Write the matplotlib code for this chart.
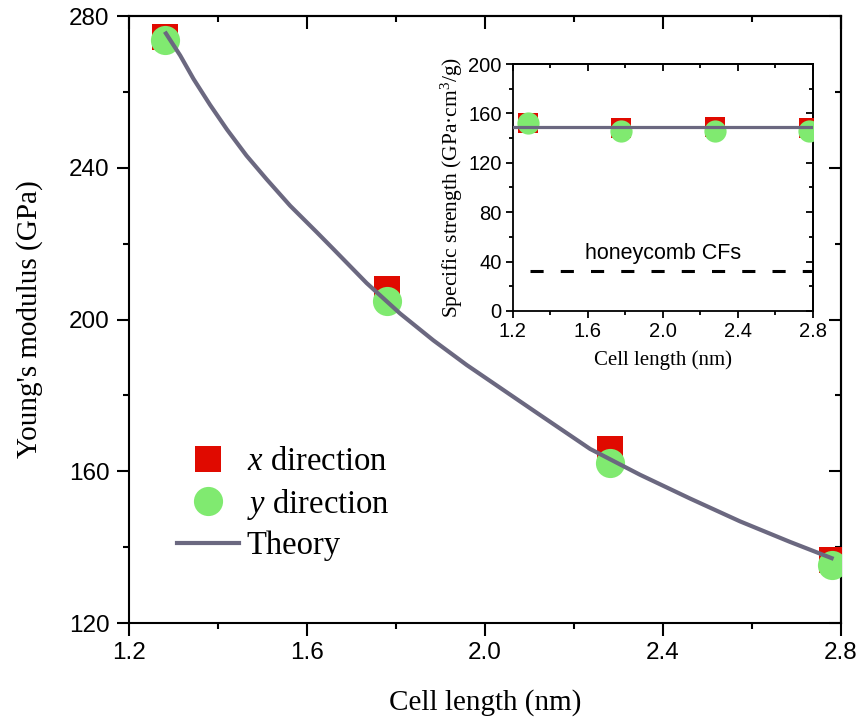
#!/usr/bin/env python3
import matplotlib
matplotlib.use("Agg")
import matplotlib.pyplot as plt
from matplotlib.ticker import MultipleLocator
from matplotlib.lines import Line2D

# cell length (nm)
cell_len = [1.28, 1.78, 2.28, 2.78]

# Young's modulus (GPa), main plot
E_x = [274.5, 208.0, 166.0, 136.6]
E_y = [273.8, 204.9, 162.3, 135.3]

# theory curve
theory_len = [1.283, 1.315, 1.345, 1.382, 1.420, 1.464, 1.509, 1.562, 1.622,
              1.659, 1.734, 1.809, 1.884, 1.959, 2.064, 2.124, 2.236, 2.348,
              2.461, 2.573, 2.685, 2.779]
theory_E = [275.4, 269.6, 263.4, 256.6, 250.1, 243.2, 237.0, 230.0, 223.0,
            218.6, 209.6, 201.6, 194.5, 188.0, 179.6, 174.8, 165.9, 159.1,
            152.8, 146.8, 141.4, 137.1]

# specific strength (GPa cm^3/g), inset
S_x = [152.4, 148.3, 149.3, 148.0]
S_y = [152.0, 145.9, 145.9, 145.9]
theory_S_len = [1.2, 2.8]
theory_S = [148.7, 148.7]
cf_len = [1.29, 2.8]
cf_S = [32, 32]

RED = '#e00a00'
GREEN = '#80ea70'
GREY = '#6b6880'

plt.rcParams['font.family'] = ['Liberation Sans', 'DejaVu Sans']
plt.rcParams['mathtext.fontset'] = 'custom'
plt.rcParams['mathtext.rm'] = 'Liberation Serif'
plt.rcParams['mathtext.it'] = 'Liberation Serif:italic'
SERIF = ['Liberation Serif', 'DejaVu Serif']


def style_axes(ax, major, minor, maj_len, min_len, width, labelsize, pad):
    ax.xaxis.set_major_locator(MultipleLocator(major[0]))
    ax.xaxis.set_minor_locator(MultipleLocator(minor[0]))
    ax.yaxis.set_major_locator(MultipleLocator(major[1]))
    ax.yaxis.set_minor_locator(MultipleLocator(minor[1]))
    ax.tick_params(which='major', direction='out', length=maj_len, width=width,
                   labelsize=labelsize, pad=pad)
    ax.tick_params(which='minor', direction='out', length=min_len, width=width)
    for s in ax.spines.values():
        s.set_linewidth(width)
    # top / right ticks point inward, without labels
    top = ax.secondary_xaxis('top')
    right = ax.secondary_yaxis('right')
    top.xaxis.set_major_locator(MultipleLocator(major[0]))
    top.xaxis.set_minor_locator(MultipleLocator(minor[0]))
    right.yaxis.set_major_locator(MultipleLocator(major[1]))
    right.yaxis.set_minor_locator(MultipleLocator(minor[1]))
    for sec in (top, right):
        sec.tick_params(which='major', direction='in', length=maj_len, width=width,
                        labeltop=False, labelright=False)
        sec.tick_params(which='minor', direction='in', length=min_len, width=width)
        for s in sec.spines.values():
            s.set_linewidth(width)


fig = plt.figure(figsize=(8.63, 7.21), dpi=100)

# Main plot
ax = fig.add_axes([0.1495, 0.1359, 0.825, 0.8419])
ax.plot(cell_len, E_x, 's', color=RED, markersize=19, markeredgewidth=0, zorder=3)
ax.plot(cell_len, E_y, 'o', color=GREEN, markersize=21, markeredgewidth=0, zorder=4)
ax.plot(theory_len, theory_E, '-', color=GREY, linewidth=3, zorder=5)
ax.set_xlim(1.2, 2.8)
ax.set_ylim(120, 280)
style_axes(ax, (0.4, 40), (0.2, 20), 9, 4.5, 1.5, 17.5, 5)
ax.set_xlabel('Cell length (nm)', family=SERIF, fontsize=21)
ax.set_ylabel("Young's modulus (GPa)", family=SERIF, fontsize=21)
ax.xaxis.set_label_coords(0.5, -0.108)
ax.yaxis.set_label_coords(-0.121, 0.5)

handles = [
    Line2D([], [], marker='s', linestyle='none', color=RED, markersize=19, markeredgewidth=0),
    Line2D([], [], marker='o', linestyle='none', color=GREEN, markersize=21, markeredgewidth=0),
    Line2D([], [], color=GREY, linewidth=3),
]
leg = ax.legend(handles, ['$x$ direction', '$y$ direction', 'Theory'],
                loc='center left', bbox_to_anchor=(0.067, 0.196), frameon=False,
                borderpad=0, borderaxespad=0, handlelength=1.9, handletextpad=0.25,
                labelspacing=0.28, prop={'family': SERIF, 'size': 23.5})

# Inset: specific strength
ins = fig.add_axes([0.594, 0.5687, 0.3477, 0.3425])
ins.plot(cell_len, S_x, 's', color=RED, markersize=14, markeredgewidth=0, zorder=3)
ins.plot(cell_len, S_y, 'o', color=GREEN, markersize=16, markeredgewidth=0, zorder=4)
ins.plot(theory_S_len, theory_S, '-', color=GREY, linewidth=2.3, zorder=5)
ins.plot(cf_len, cf_S, color='black', linewidth=2.2, dashes=(4.3, 5.6), zorder=5)
ins.text(2.0, 38, 'honeycomb CFs', ha='center', va='bottom', fontsize=15.5)
ins.set_xlim(1.2, 2.8)
ins.set_ylim(0, 200)
style_axes(ins, (0.4, 40), (0.2, 20), 5, 3, 1.3, 14.5, 3)
ins.set_xlabel('Cell length (nm)', family=SERIF, fontsize=15)
ins.set_ylabel('Specific strength (GPa\u00b7cm$^3$/g)', family=SERIF, fontsize=15.5)
ins.xaxis.set_label_coords(0.5, -0.158)
ins.yaxis.set_label_coords(-0.16, 0.5)

plt.savefig('out.png', dpi=100)
